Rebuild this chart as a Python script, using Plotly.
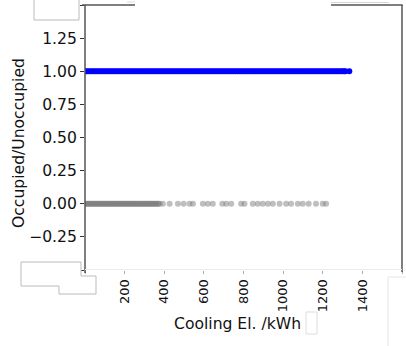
import plotly.graph_objects as go

# ---- data (dense bands listed point by point) ----
occupied_x = [
    0, 10, 20, 30, 40, 50, 60, 70, 80, 90, 100, 110, 120, 130, 140, 150, 160, 170, 180, 190,
    200, 210, 220, 230, 240, 250, 260, 270, 280, 290, 300, 310, 320, 330, 340, 350, 360, 370,
    380, 390, 400, 410, 420, 430, 440, 450, 460, 470, 480, 490, 500, 510, 520, 530, 540, 550,
    560, 570, 580, 590, 600, 610, 620, 630, 640, 650, 660, 670, 680, 690, 700, 710, 720, 730,
    740, 750, 760, 770, 780, 790, 800, 810, 820, 830, 840, 850, 860, 870, 880, 890, 900, 910,
    920, 930, 940, 950, 960, 970, 980, 990, 1000, 1010, 1020, 1030, 1040, 1050, 1060, 1070,
    1080, 1090, 1100, 1110, 1120, 1130, 1140, 1150, 1160, 1170, 1180, 1190, 1200, 1210, 1220,
    1230, 1240, 1250, 1260, 1270, 1280, 1290, 1300, 1308, 1314, 1334]
occupied_y = [1.0] * len(occupied_x)

unoccupied_x = [
    0, 5, 10, 15, 20, 25, 30, 35, 40, 45, 50, 55, 60, 65, 70, 75, 80, 85, 90, 95, 100, 105,
    110, 115, 120, 125, 130, 135, 140, 145, 150, 155, 160, 165, 170, 175, 180, 185, 190, 195,
    200, 205, 210, 215, 220, 225, 230, 235, 240, 245, 250, 255, 260, 265, 270, 275, 280, 285,
    290, 295, 300, 305, 310, 315, 320, 325, 330, 335, 340, 345, 350, 355, 360, 366, 371, 377,
    393, 427, 469, 498, 528, 545, 595, 620, 645, 693, 713, 738, 788, 805, 847,
    872, 897, 923, 948, 982, 1015, 1040, 1074, 1099, 1129, 1166, 1200, 1217]
unoccupied_y = [0.0] * len(unoccupied_x)

y_tickvals = [-0.5, -0.25, 0.0, 0.25, 0.5, 0.75, 1.0, 1.25, 1.5]
y_ticktext = ["", "\u22120.25", "0.00", "0.25", "0.50", "0.75", "1.00", "1.25", ""]
x_tickvals = [0, 200, 400, 600, 800, 1000, 1200, 1400, 1600]
x_ticktext = ["", "200", "400", "600", "800", "1000", "1200", "1400", ""]

x_label = "Cooling El. /kWh"
y_label = "Occupied/Unoccupied"

# ---- layout geometry (pixels) ----
W, H = 406, 346
L, R, T, B = 85, 402, 5, 270


def px(x):
    return (x - L) / (R - L)


def py(y):
    return (B - y) / (B - T)


FONT = "DejaVu Sans"

fig = go.Figure()
fig.add_trace(go.Scatter(x=unoccupied_x, y=unoccupied_y, mode="markers",
                         marker=dict(size=6, color="rgba(128,128,128,0.5)"),
                         showlegend=False, hoverinfo="skip"))
fig.add_trace(go.Scatter(x=occupied_x, y=occupied_y, mode="markers",
                         marker=dict(size=6, color="#0000ff"),
                         showlegend=False, hoverinfo="skip"))

shapes = []


def line(x0, y0, x1, y1, color, width=1.5):
    shapes.append(dict(type="line", xref="paper", yref="paper",
                       x0=px(x0), y0=py(y0), x1=px(x1), y1=py(y1),
                       line=dict(color=color, width=width), layer="above"))


def rect(x0, y0, x1, y1, color, fill="white", width=1):
    shapes.append(dict(type="rect", xref="paper", yref="paper",
                       x0=px(x0), y0=py(y0), x1=px(x1), y1=py(y1),
                       line=dict(color=color, width=width), fillcolor=fill, layer="above"))


# spines
line(82, 5, 135, 5, "#555555")
line(331, 5, 402.7, 5, "#555555")
line(127, 2, 135, 2, "#dddddd", 1)
line(331, 2.5, 389, 2.5, "#d8d8d8", 1.2)
line(85, 5, 85, 273, "#555555")
line(402, 5, 402, 272, "#555555")
line(85, 269.5, 402, 269.5, "#ececec", 1)

# white patches
rect(34, -3, 79, 20, "#bbbbbb")
pts = [(21, 262), (81, 262), (81, 276), (96, 276), (96, 294), (59, 294), (59, 286), (21, 286)]
path = "M " + " L ".join(f"{px(a)},{py(b)}" for a, b in pts) + " Z"
shapes.append(dict(type="path", xref="paper", yref="paper", path=path,
                   line=dict(color="#bbbbbb", width=1), fillcolor="white", layer="above"))
rect(388, 277, 412, 352, "#e6e6e6")
rect(306, 312, 317, 334, "#dddddd", fill="rgba(255,255,255,0)")

annotations = [
    dict(text=y_label, xref="paper", yref="paper", x=px(19), y=py(143),
         textangle=-90, showarrow=False, xanchor="center", yanchor="middle",
         font=dict(family=FONT, size=15.6, color="#111111")),
    dict(text=x_label, xref="paper", yref="paper", x=px(237.5), y=py(323.5),
         showarrow=False, xanchor="center", yanchor="middle",
         font=dict(family=FONT, size=15.6, color="#111111")),
]

fig.update_layout(
    width=W, height=H,
    margin=dict(l=L, r=W - R, t=T, b=H - B, pad=0),
    paper_bgcolor="white", plot_bgcolor="white",
    shapes=shapes, annotations=annotations, hovermode=False,
    xaxis=dict(range=[0, 1600], tickvals=x_tickvals, ticktext=x_ticktext,
               tickangle=-90, ticks="outside", ticklen=3, tickcolor="#aaaaaa",
               showgrid=False, zeroline=False, showline=False, automargin=False,
               tickfont=dict(family=FONT, size=13, color="#111111")),
    yaxis=dict(range=[-0.5, 1.5], tickvals=y_tickvals, ticktext=y_ticktext,
               ticks="outside", ticklen=4, tickcolor="#333333",
               showgrid=False, zeroline=False, showline=False, automargin=False,
               tickfont=dict(family=FONT, size=15.6, color="#111111")),
)

fig.write_html("out.html", config={"displayModeBar": False, "staticPlot": True},
               post_script="document.body.style.margin='0px';document.body.style.overflow='hidden';")
